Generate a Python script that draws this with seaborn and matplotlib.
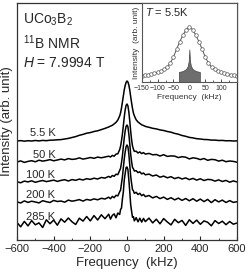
import matplotlib
matplotlib.use("Agg")
import matplotlib.pyplot as plt
from matplotlib.ticker import MultipleLocator
import seaborn as sns

# frequency grid (kHz), shared by all spectra
freq = [-600, -580, -560, -540, -520, -500, -480, -460, -440, -420, -400, -380, -360,
        -340, -320, -300, -280, -260, -240, -220, -200, -180, -160, -140, -120,
        -100, -90, -80, -70, -60, -50, -40, -35, -30, -25, -20, -15, -10, -5, 0,
        5, 10, 15, 20, 25, 30, 35, 40, 50, 60, 70, 80, 90, 100,
        120, 140, 160, 180, 200, 220, 240, 260, 280, 300, 320, 340, 360, 380, 400,
        420, 440, 460, 480, 500, 520, 540, 560, 580, 600]

temps = ["5.5 K", "50 K", "100 K", "200 K", "285 K"]
offsets = [99, 78, 58, 38, 16]

spec_5K = [0.0, 0.4, -0.2, 0.3, 0.0, 0.5, 0.1, 0.6, 0.3, 0.8, 0.9, 1.2, 1.4, 2.0, 2.6, 3.5, 4.4, 5.7, 6.6, 7.8, 8.4, 9.5, 10.2, 11.4, 12.6,
           14.0, 14.9, 15.7, 17.1, 18.6, 21.0, 25.0, 28.2, 33.0, 39.0, 45.0, 51.0, 55.5, 58.6, 60.0,
           59.0, 56.0, 51.0, 44.5, 38.2, 32.6, 28.0, 25.2, 21.2, 19.0, 17.6, 16.2, 15.5, 14.6,
           13.7, 12.7, 12.1, 11.1, 10.5, 9.5, 8.8, 7.6, 6.8, 5.5, 4.7, 3.6, 3.1, 2.3, 2.0, 1.5, 1.4, 0.9, 0.9, 0.5, 0.6, 0.2, 0.3, 0.0, 0.1]
spec_50K = [0.0, 1.1, -0.4, 0.6, 1.3, 0.2, 1.8, 0.9, 1.5, 2.4, 1.2, 2.0, 2.9, 2.1, 3.4, 2.6, 3.0, 4.1, 2.9, 3.6, 4.5, 3.7, 4.9, 4.2, 5.0,
            5.8, 5.0, 6.6, 5.8, 7.9, 8.2, 12.4, 15.8, 21.3, 28.0, 36.2, 45.0, 52.0, 56.6, 58.0,
            56.2, 50.0, 41.2, 31.0, 22.3, 16.0, 12.9, 10.6, 10.8, 9.0, 10.1, 8.4, 9.4, 7.9,
            8.6, 7.2, 7.5, 6.0, 7.3, 5.6, 6.1, 5.9, 4.4, 5.3, 4.8, 3.1, 4.2, 3.6, 2.4, 3.5, 1.7, 2.6, 2.3, 0.9, 1.8, 0.3, 1.0, 0.6, -0.2]
spec_100K = [0.3, -0.8, 0.9, 0.1, 1.2, -0.3, 0.7, 1.5, 0.4, 1.1, 1.9, 0.6, 1.6, 2.3, 1.0, 2.4, 1.7, 2.9, 2.0, 3.3, 2.6, 3.8, 3.0, 4.5, 3.9,
             5.6, 4.6, 6.5, 5.7, 7.8, 7.4, 11.5, 13.8, 19.4, 26.0, 35.2, 44.0, 51.0, 55.6, 57.0,
             55.2, 48.0, 38.3, 28.0, 20.4, 14.6, 13.1, 11.0, 11.3, 9.4, 10.2, 8.1, 9.0, 7.2,
             7.9, 6.0, 7.0, 4.8, 5.9, 4.2, 5.3, 3.4, 4.6, 3.0, 4.1, 2.4, 3.6, 1.9, 3.2, 1.5, 2.6, 2.3, 0.9, 2.1, 0.5, 1.6, -0.2, 1.1, 0.0]
spec_200K = [0.2, -1.0, 1.1, -0.4, 0.8, 0.0, -0.9, 1.3, 0.3, -0.5, 1.6, 0.5, 1.0, -0.2, 1.9, 0.8, 1.5, 2.4, 0.9, 2.6, 1.8, 3.1, 2.2, 3.7, 3.0,
             4.8, 3.3, 5.6, 4.3, 6.7, 6.1, 10.2, 12.0, 18.5, 25.0, 34.3, 43.0, 50.0, 55.2, 57.0,
             55.3, 48.0, 37.2, 26.0, 18.6, 12.4, 11.2, 8.6, 9.7, 7.5, 8.7, 6.3, 7.6, 5.4,
             6.5, 4.1, 5.6, 3.4, 4.9, 2.6, 4.3, 2.1, 3.9, 1.6, 3.5, 1.2, 3.3, 0.8, 2.9, 0.4, 2.6, -0.6, 2.3, 0.1, 1.9, -0.5, 1.4, -0.4, 0.3]
spec_285K = [1.5, -2.8, 2.6, -1.9, 3.4, -0.8, 1.1, -3.5, 4.2, 0.3, 3.9, -1.2, 5.1, 1.8, 6.0, 2.2, -0.5, 5.8, 2.9, 7.5, 3.1, 8.4, 4.0, 9.2, 5.3,
             9.8, 4.9, 8.6, 10.1, 6.2, 11.0, 9.5, 14.6, 16.0, 25.1, 32.0, 44.0, 50.5, 56.5, 57.0,
             54.4, 44.3, 32.6, 19.5, 12.8, 6.7, 7.4, 3.1, 6.3, 2.2, 5.8, 1.9, 5.6, 2.4,
             5.9, 1.1, 4.8, 0.2, 5.4, 2.0, -0.9, 4.7, 1.3, 3.6, -1.4, 4.2, 0.6, 3.9, -0.3, 3.1, 1.7, -1.8, 3.4, 0.5, 2.8, -0.7, 2.5, -0.2, 1.0]
spectra = [spec_5K, spec_50K, spec_100K, spec_200K, spec_285K]

# inset: T = 5.5 K spectrum (open circles) and the narrow line (grey area)
inset_freq = [-150, -140, -130, -120, -110, -100, -90, -80, -70, -60, -50, -40, -30, -20, -10, 0,
              10, 20, 30, 40, 50, 60, 70, 80, 90, 100, 110, 120, 130, 140, 150]
inset_int = [6.5, 7.0, 7.5, 8.0, 8.8, 9.8, 11.0, 12.8, 15.0, 19.0, 25.0, 33.0, 40.5, 47.0, 52.5, 55.0,
             52.5, 47.0, 40.5, 33.0, 25.0, 19.0, 15.0, 12.8, 11.0, 9.8, 8.8, 8.0, 7.3, 6.8, 6.3]
narrow_freq = [-33, -33, -20, -10, -5, -2, 0, 2, 5, 10, 20, 33, 33]
narrow_int = [0, 10, 11, 13, 16, 21, 32.5, 21, 16, 13, 11, 10, 0]

sns.set_theme(style="ticks")
plt.rcParams["font.family"] = ["Liberation Sans", "DejaVu Sans"]
plt.rcParams["mathtext.fontset"] = "custom"
plt.rcParams["mathtext.rm"] = "Liberation Sans"
plt.rcParams["mathtext.it"] = "Liberation Sans:italic"

fig = plt.figure(figsize=(2.48, 2.76), dpi=100)
ax = fig.add_axes([17 / 248, 1 - 240 / 276, 220 / 248, 237 / 276])

for name, off, spec in zip(temps, offsets, spectra):
    y = [v + off for v in spec]
    sns.lineplot(x=freq, y=y, ax=ax, color="black", linewidth=1.1, sort=False)
    ax.text(-390, off + 2.5, name, ha="right", va="bottom", fontsize=8)

ax.set_xlim(-600, 600)
ax.set_ylim(0, 237)
ax.set_yticks([])
ax.xaxis.set_major_locator(MultipleLocator(200))
ax.xaxis.set_minor_locator(MultipleLocator(100))
ax.tick_params(axis="x", which="major", direction="in", length=3, width=0.8, labelsize=8, pad=3)
ax.tick_params(axis="x", which="minor", direction="in", length=1.8, width=0.6)
ax.set_xlabel("Frequency  (kHz)", fontsize=9.5, labelpad=2)
ax.set_ylabel("Intensity (arb. unit)", fontsize=9.5, labelpad=3)
for s in ax.spines.values():
    s.set_color("#333333")
    s.set_linewidth(0.9)

ax.text(-568, 220, "UCo$_3$B$_2$", fontsize=10, va="center")
ax.text(-568, 197, "$^{11}$B NMR", fontsize=10, va="center")
ax.text(-568, 177, "$H$ = 7.9994 T", fontsize=10, va="center")

# inset
ins = fig.add_axes([141.7 / 248, 1 - 82 / 276, 95.3 / 248, 79 / 276])
ins.fill_between(narrow_freq, 0, narrow_int, color="#6e6e6e", edgecolor="#444444", linewidth=0.5)
sns.lineplot(x=inset_freq, y=inset_int, ax=ins, color="#555555", linewidth=0.7,
             marker="o", markersize=2.6, markerfacecolor="white", markeredgecolor="#555555",
             markeredgewidth=0.5)
ins.set_xlim(-150, 150)
ins.set_ylim(0, 79)
ins.set_yticks([])
ins.set_xticks([-150, -100, -50, 0, 50, 100])
ins.xaxis.set_minor_locator(MultipleLocator(25))
ins.tick_params(axis="x", which="major", direction="in", length=2, width=0.6, labelsize=5, pad=2,
                colors="#333333")
ins.tick_params(axis="x", which="minor", direction="in", length=1.2, width=0.5)
ins.set_xlabel("Frequency  (kHz)", fontsize=6, labelpad=1.5, color="#333333")
ins.set_ylabel("Intensity  (arb. unit)", fontsize=6, labelpad=1.5, color="#333333")
ins.text(-140, 70, "$T$ = 5.5K", fontsize=8, va="center")
for s in ins.spines.values():
    s.set_color("#555555")
    s.set_linewidth(0.8)

fig.savefig("out.png", dpi=100)
